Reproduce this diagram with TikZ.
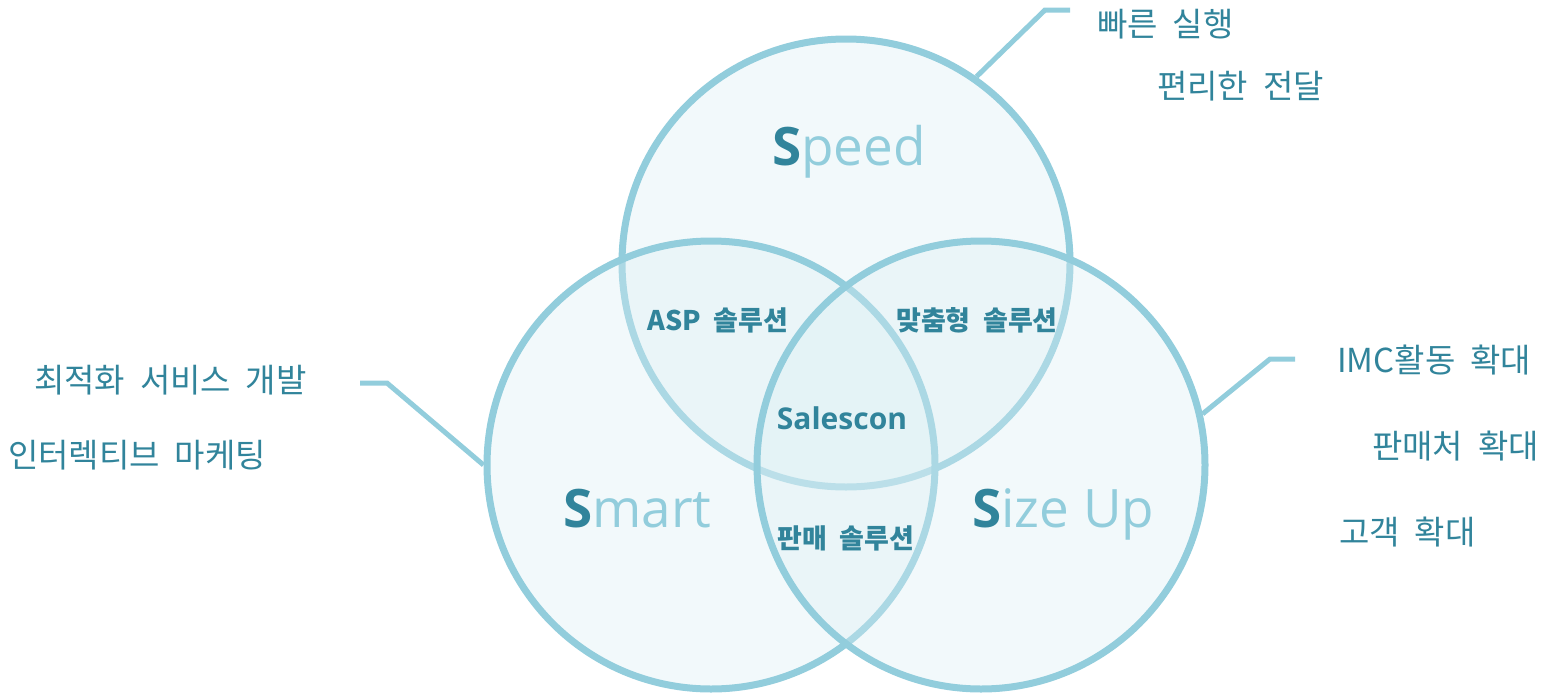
\documentclass[tikz,border=0pt]{standalone}
\usepackage{fontspec}
\setmainfont{Noto Sans CJK KR}[WordSpace=2]
\newfontfamily\headfont{Open Sans}
\definecolor{sdark}{HTML}{31849B}
\definecolor{slight}{HTML}{92CDDC}
\definecolor{sfill}{HTML}{DAEEF3}
\begin{document}
\begin{tikzpicture}[x=1pt, y=-1pt,
  venn/.style={circle, draw=slight, line width=7pt, fill=sfill, fill opacity=0.35,
    minimum size=448pt, inner sep=0pt},
  leader/.style={draw=slight, line width=5pt},
  note/.style={anchor=west, text=sdark, inner sep=0pt, font=\fontsize{33}{38}\selectfont},
  part/.style={text=sdark, inner sep=0pt, font=\fontsize{27}{32}\selectfont\bfseries},
  big/.style={anchor=base west, text=slight, inner sep=0pt, font=\headfont\fontsize{53}{60}\selectfont}]
\useasboundingbox (0, 0) rectangle (1547, 699);

% the three circles
\node[venn] (speed) at (846, 263) {};
\node[venn] (smart) at (711, 465) {};
\node[venn] (size)  at (981, 465) {};

% big labels
\node[big] (speedtxt) at (772, 165) {{\bfseries\color{sdark}S}peed};
\node[big] (smarttxt) at (563, 527) {{\bfseries\color{sdark}S}mart};
\node[big] (sizetxt)  at (972, 527) {{\bfseries\color{sdark}S}ize Up};

% overlaps
\node[part] (asp)    at (718, 320) {ASP 솔루션};
\node[part] (custom) at (977, 320) {맞춤형 솔루션};
\node[part] (core)   at (842, 418) {\headfont\fontsize{30}{34}\selectfont Salescon};
\node[part] (sales)  at (846, 538) {판매 솔루션};

% leader lines
\coordinate (speedbend) at (1045, 10);
\coordinate (speedend)  at (1070, 10);
\coordinate (smartbend) at (387, 383);
\coordinate (smartend)  at (360, 383);
\coordinate (sizebend)  at (1270, 359);
\coordinate (sizeend)   at (1295, 359);
\draw[leader] (speed.55) -- (speedbend) -- (speedend);
\draw[leader] (smart.180) -- (smartbend) -- (smartend);
\draw[leader] (size.13) -- (sizebend) -- (sizeend);

% side notes
\node[note] (fast)     at (1097, 24)  {빠른 실행};
\node[note] (deliver)  at (1157, 86)  {편리한 전달};
\node[note] (optimize) at (34, 380)   {최적화 서비스 개발};
\node[note] (interact) at (8, 455)    {인터렉티브 마케팅};
\node[note] (imc)      at (1337, 360) {IMC활동 확대};
\node[note] (seller)   at (1372, 446) {판매처 확대};
\node[note] (customer) at (1339, 532) {고객 확대};
\end{tikzpicture}
\end{document}
